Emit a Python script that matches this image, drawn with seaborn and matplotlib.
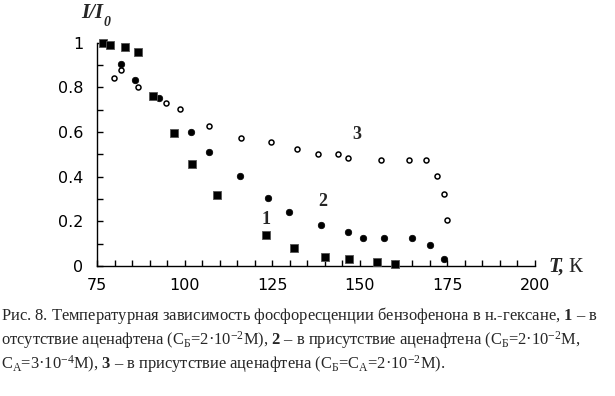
import matplotlib
matplotlib.use("Agg")
import matplotlib.pyplot as plt
import seaborn as sns
import pandas as pd
from matplotlib.ticker import MultipleLocator

# Data
s1_T = [76.6, 78.6, 82.9, 86.7, 90.9, 96.8, 102.0, 109.1, 123.1, 131.2, 139.9, 146.8, 154.8, 160.0]
s1_I = [1.00, 0.99, 0.98, 0.957, 0.761, 0.597, 0.458, 0.318, 0.140, 0.082, 0.042, 0.030, 0.019, 0.010]

s2_T = [81.8, 85.7, 92.7, 101.9, 106.8, 115.8, 123.8, 129.7, 138.9, 146.7, 150.8, 156.8, 164.8, 170.0, 173.9]
s2_I = [0.905, 0.833, 0.751, 0.600, 0.512, 0.404, 0.303, 0.242, 0.185, 0.152, 0.124, 0.124, 0.124, 0.093, 0.031]

s3_T = [79.7, 81.9, 86.6, 94.6, 98.7, 106.8, 115.9, 124.7, 131.9, 137.9, 143.8, 146.7, 155.9, 163.9, 169.0, 172.0, 173.9, 174.9]
s3_I = [0.842, 0.879, 0.800, 0.731, 0.703, 0.626, 0.572, 0.554, 0.522, 0.502, 0.502, 0.482, 0.473, 0.473, 0.473, 0.404, 0.321, 0.205]

curve_labels = ["1", "2", "3"]
label_pos = [(123.1, 0.209), (139.4, 0.288), (149.1, 0.587)]

x_ticks = [75, 100, 125, 150, 175, 200]
y_ticks = [0, 0.2, 0.4, 0.6, 0.8, 1]
y_tick_labels = ["0", "0.2", "0.4", "0.6", "0.8", "1"]

caption = [
    "Рис. 8. Температурная зависимость фосфоресценции бензофенона в н.-гексане, $\\mathbf{1}$ – в",
    "отсутствие аценафтена (С$_{\\mathrm{Б}}$=2·10$^{-2}$М), $\\mathbf{2}$ – в присутствие аценафтена (С$_{\\mathrm{Б}}$=2·10$^{-2}$М,",
    "С$_{\\mathrm{А}}$=3·10$^{-4}$М), $\\mathbf{3}$ – в присутствие аценафтена (С$_{\\mathrm{Б}}$=С$_{\\mathrm{А}}$=2·10$^{-2}$М).",
]

sns.set_style("ticks")
plt.rcParams["font.family"] = ["DejaVu Sans"]
plt.rcParams["mathtext.fontset"] = "custom"
plt.rcParams["mathtext.rm"] = "Liberation Serif"
plt.rcParams["mathtext.bf"] = "Liberation Serif:bold"
plt.rcParams["mathtext.it"] = "Liberation Serif:italic"

df1 = pd.DataFrame({"T": s1_T, "I": s1_I})
df2 = pd.DataFrame({"T": s2_T, "I": s2_I})
df3 = pd.DataFrame({"T": s3_T, "I": s3_I})

fig = plt.figure(figsize=(6.15, 3.96), dpi=100)
ax = fig.add_axes([97.3 / 615, 130 / 396, (535 - 97.3) / 615, (266 - 42.7) / 396])

sns.scatterplot(data=df3, x="T", y="I", ax=ax, marker="o", s=13,
                facecolor="white", edgecolor="black", linewidth=1.1, clip_on=False, zorder=3)
sns.scatterplot(data=df2, x="T", y="I", ax=ax, marker="o", s=22,
                color="black", edgecolor="black", linewidth=0.5, clip_on=False, zorder=4)
sns.scatterplot(data=df1, x="T", y="I", ax=ax, marker="s", s=40,
                color="black", edgecolor="#555555", linewidth=0.6, clip_on=False, zorder=5)

for lab, (lx, ly) in zip(curve_labels, label_pos):
    ax.text(lx, ly, lab, family="Liberation Serif", fontweight="bold", fontsize=13,
            ha="center", va="center")

ax.set_xlim(75, 200)
ax.set_ylim(0, 1)
ax.set_xticks(x_ticks)
ax.set_yticks(y_ticks)
ax.set_yticklabels(y_tick_labels)
ax.xaxis.set_minor_locator(MultipleLocator(5))
ax.yaxis.set_minor_locator(MultipleLocator(0.1))
ax.tick_params(axis="both", which="both", direction="in", length=4, width=1, color="black")
ax.tick_params(axis="both", which="major", labelsize=11.5, pad=10, labelcolor="black")
ax.tick_params(axis="x", which="major", pad=9)
for sp in ["top", "right"]:
    ax.spines[sp].set_visible(False)
for sp in ["left", "bottom"]:
    ax.spines[sp].set_color("black")
    ax.spines[sp].set_linewidth(1)
ax.set_xlabel("")
ax.set_ylabel("")

# y-axis title I/I0
fig.text(103 / 615, 1 - 13 / 396, "I/I", ha="right", va="center", fontsize=15,
         family="Liberation Serif", style="italic", fontweight="bold")
fig.text(104 / 615, 1 - 22 / 396, "0", ha="left", va="center", fontsize=10,
         family="Liberation Serif", style="italic", fontweight="bold")
# x-axis title T, K
fig.text(565 / 615, 1 - 267 / 396, "T,", ha="right", va="center", fontsize=15,
         family="Liberation Serif", style="italic", fontweight="bold")
fig.text(568 / 615, 1 - 267 / 396, "К", ha="left", va="center", fontsize=15,
         family="Liberation Serif")

ys = [316, 340, 364]
for line, y in zip(caption, ys):
    fig.text(1 / 615, 1 - y / 396, line, ha="left", va="center", fontsize=11.9,
             family="Liberation Serif")

fig.savefig("out.png", dpi=100)
